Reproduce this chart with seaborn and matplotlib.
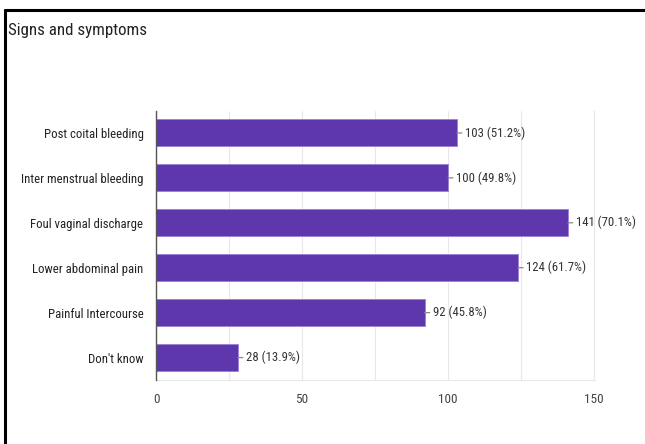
import matplotlib
matplotlib.use("Agg")
import matplotlib.pyplot as plt
from matplotlib import font_manager
import seaborn as sns
import pandas as pd
from matplotlib.lines import Line2D

categories = ["Post coital bleeding", "Inter menstrual bleeding", "Foul vaginal discharge",
              "Lower abdominal pain", "Painful Intercourse", "Don't know"]
counts = [103, 100, 141, 124, 92, 28]
percents = ["51.2%", "49.8%", "70.1%", "61.7%", "45.8%", "13.9%"]
xticks = [0, 50, 100, 150]
title = "Signs and symptoms"

sns.set_theme(style="white")
names = {f.name for f in font_manager.fontManager.ttflist}
fam = "Roboto"
for cand in ["Roboto Condensed", "Liberation Sans Narrow", "Arial Narrow", "Archivo Narrow",
             "Open Sans Condensed", "Barlow Semi Condensed"]:
    if cand in names:
        fam = cand
        break
plt.rcParams['font.family'] = [fam, "DejaVu Sans"]

df = pd.DataFrame({"cat": categories, "n": counts})
fig = plt.figure(figsize=(6.45, 4.44), dpi=100)
W, H = 645, 444
ax = fig.add_axes([156 / W, 1 - 380 / H, (594 - 156) / W, (380 - 110.5) / H])

sns.barplot(data=df, y="cat", x="n", orient="h", color="#5E37AC", saturation=1, width=0.6,
            edgecolor="#9A80D6", linewidth=0.6, ax=ax, zorder=3)

ax.set_xlim(0, 150)
ax.set_xticks(xticks)
ax.set_xticks(list(range(25, 150, 50)), minor=True)
ax.grid(axis="x", which="both", color="#E8E8E8", linewidth=0.8, zorder=0)
ax.grid(axis="y", visible=False)
ax.set_xlabel("")
ax.set_ylabel("")
ax.spines["top"].set_visible(False)
ax.spines["left"].set_color("#555555")
ax.spines["left"].set_linewidth(1.0)
ax.spines["left"].set_zorder(4)
for s in ["bottom", "right"]:
    ax.spines[s].set_color("#E8E8E8")
    ax.spines[s].set_linewidth(0.8)
ax.tick_params(axis="x", which="both", length=0, pad=9, labelsize=9.5, labelcolor="#444444")
ax.tick_params(axis="y", length=0, pad=9, labelsize=9.2, labelcolor="#222222")

for i, (n, p) in enumerate(zip(counts, percents)):
    ax.annotate(f"{n} ({p})", xy=(n, i), xytext=(6, 0), textcoords="offset points",
                va="center", ha="left", fontsize=9.2, color="#333333",
                arrowprops=dict(arrowstyle="-", color="#888888", lw=0.9,
                                shrinkA=0, shrinkB=0))

fig.text(8 / W, 1 - 30 / H, title, fontsize=12.2, color="#222222", va="center", ha="left")

# outer frame (left and top edges)
fig.add_artist(Line2D([5 / W, 5 / W], [0, 1 - 10 / H], color="black", lw=2.2, transform=fig.transFigure))
fig.add_artist(Line2D([5 / W, 1.0], [1 - 10 / H, 1 - 10 / H], color="black", lw=2.2, transform=fig.transFigure))

fig.savefig("out.png", dpi=100)
